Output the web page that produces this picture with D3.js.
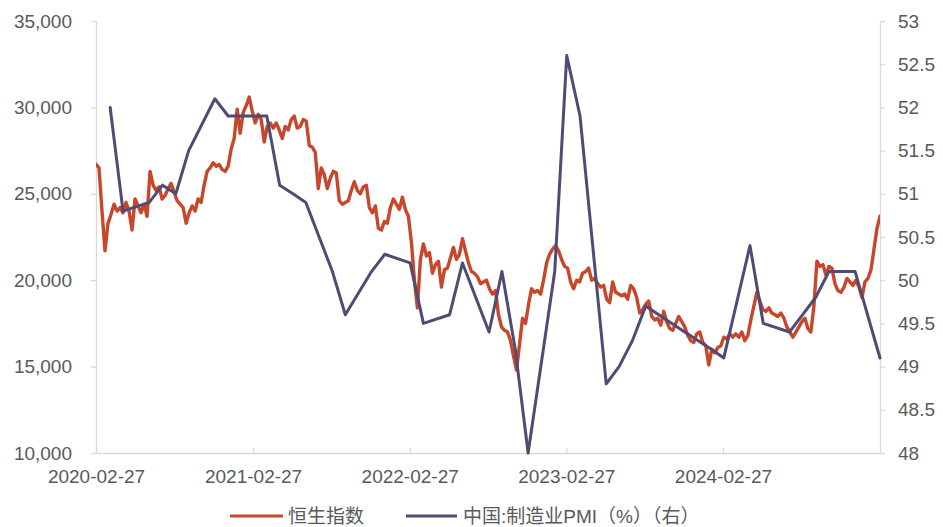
<!DOCTYPE html>
<html><head><meta charset="utf-8">
<script src="https://cdn.jsdelivr.net/npm/d3@7"></script>
<style>
body{margin:0;background:#fff}
text{font-family:"Liberation Sans",Arial,"Noto Sans CJK SC",sans-serif}
</style>
</head><body>
<svg id="chart" width="943" height="527"></svg>
<script>
// ---- data ----
const hsiStart = "2020-02-27";   // weekly samples from this date
const hsiStepDays = 7;
const hsiValues = [
26700,26500,24000,21700,23300,23800,24400,24000,24200,23900,
24500,24000,22900,24700,24300,23900,24400,23700,26300,25500,
25200,25400,24700,24900,25300,25600,25100,24600,24400,24200,
23300,23900,24300,24000,24700,24500,25500,26300,26500,26800,
26600,26700,26400,26300,26600,27600,28200,29900,28500,29700,
30100,30600,29800,29100,29600,29300,28000,28900,29100,28800,
29100,28700,28200,28900,28700,29300,29500,28800,28900,29300,
29200,27800,27700,27400,25300,26500,26100,25300,25900,26300,
26200,24600,24400,24500,24600,25200,25700,25200,25000,25400,
25500,24200,23900,24300,23000,22900,23400,23300,24200,24700,
24400,24100,24800,24100,23700,22200,20000,18400,21200,22100,
21400,21600,20400,20900,21100,19600,20600,20700,21300,21900,
21200,21500,22400,21700,21000,20500,20400,20200,19800,19900,
20000,19500,19200,19400,18000,17300,17100,17000,16500,15600,
14800,16300,17800,17500,18600,19500,19300,19400,19200,20000,
21000,21500,21800,22000,21700,21200,20800,20700,19900,19500,
20000,19900,20400,20500,20700,20000,20100,19800,19600,19700,
18900,18700,19900,19300,19200,19100,19200,18900,19700,19500,
19000,18100,18300,18600,18800,17900,17700,17800,17400,18200,
17600,17200,17100,17500,17900,17600,17300,16800,16500,16400,
16900,17000,16400,16200,15100,16000,15800,16100,16200,16700,
16600,16900,16700,16900,16700,17000,16500,16800,17700,18500,
19300,18800,18300,18200,18400,18100,18000,17900,18100,17800,
17300,17000,16700,17000,17300,17600,17800,17200,17000,18500,
21100,20800,20900,20300,20800,20700,19800,19400,19300,19600,
20100,19900,19700,20000,19600,19000,19900,20100,20600,21800,
23000,23700
];
const pmiDates = [
"2020-03-31","2020-04-30","2020-06-30","2020-07-31","2020-08-31","2020-09-30","2020-11-30","2020-12-31",
"2021-03-31","2021-04-30","2021-05-31","2021-06-30","2021-08-31","2021-09-30","2021-11-30","2021-12-31",
"2022-02-28","2022-03-31","2022-05-31","2022-06-30","2022-08-31","2022-09-30","2022-10-31","2022-11-30",
"2023-01-31","2023-02-28","2023-03-31","2023-05-31","2023-06-30","2023-07-31","2023-08-31","2023-10-31","2023-11-30",
"2024-01-31","2024-02-29","2024-04-30","2024-05-31","2024-07-31","2024-09-30","2024-10-31","2024-12-31","2025-02-27"
];
const pmiValues = [
52.0,50.8,50.9,51.1,51.0,51.5,52.1,51.9,
51.9,51.1,51.0,50.9,50.1,49.6,50.1,50.3,
50.2,49.5,49.6,50.2,49.4,50.1,49.2,48.0,
50.1,52.6,51.9,48.8,49.0,49.3,49.7,49.5,49.4,
49.2,49.1,50.4,49.5,49.4,49.8,50.1,50.1,49.1
];
const xDomain = ["2020-02-27","2025-02-27"];
const xTickLabels = ["2020-02-27","2021-02-27","2022-02-27","2023-02-27","2024-02-27"];
const leftTicks = [10000,15000,20000,25000,30000,35000];
const rightTicks = [48,48.5,49,49.5,50,50.5,51,51.5,52,52.5,53];
const seriesNames = ["恒生指数","中国:制造业PMI（%）（右）"];
const seriesColors = ["#C8462A","#4F4B74"];

// ---- chart ----
const parse = d3.utcParse("%Y-%m-%d");
const svg = d3.select("#chart");
const L = 96, R = 880, T = 21, B = 453;
const x = d3.scaleUtc().domain(xDomain.map(parse)).range([L, R]);
const yL = d3.scaleLinear().domain([10000, 35000]).range([B, T]);
const yR = d3.scaleLinear().domain([48, 53]).range([B, T]);

const start = parse(hsiStart);
const hsi = hsiValues.map((v, i) => ({d: d3.utcDay.offset(start, i * hsiStepDays), v}));
const pmi = pmiDates.map((s, i) => ({d: parse(s), v: pmiValues[i]}));

const axisColor = "#D9D9D9", textColor = "#595959", fs = 19;

function styleAxis(g) {
  g.selectAll("path.domain").attr("stroke", axisColor).attr("stroke-width", 1.3);
  g.selectAll(".tick line").attr("stroke", axisColor).attr("stroke-width", 1.3);
  g.selectAll(".tick text").attr("fill", textColor).style("font-size", fs + "px");
}

svg.append("g").attr("transform", `translate(${L},0)`)
  .call(d3.axisLeft(yL).tickValues(leftTicks).tickFormat(d3.format(",")).tickSize(5).tickSizeOuter(0).tickPadding(19))
  .call(styleAxis);

svg.append("g").attr("transform", `translate(${R},0)`)
  .call(d3.axisRight(yR).tickValues(rightTicks).tickFormat(d => d3.format("")(d)).tickSize(5).tickSizeOuter(0).tickPadding(13))
  .call(styleAxis);

svg.append("g").attr("transform", `translate(0,${B})`)
  .call(d3.axisBottom(x).tickValues(xTickLabels.map(parse)).tickFormat(d3.utcFormat("%Y-%m-%d")).tickSize(-5).tickSizeOuter(0).tickPadding(17))
  .call(styleAxis);

svg.append("clipPath").attr("id", "plotclip")
  .append("rect").attr("x", L).attr("y", T - 3).attr("width", R - L).attr("height", B - T + 3);

svg.append("path").datum(hsi)
  .attr("clip-path", "url(#plotclip)")
  .attr("fill", "none").attr("stroke", seriesColors[0]).attr("stroke-width", 3.4)
  .attr("stroke-linejoin", "round").attr("stroke-linecap", "round")
  .attr("d", d3.line().x(d => x(d.d)).y(d => yL(d.v)));

svg.append("path").datum(pmi)
  .attr("fill", "none").attr("stroke", seriesColors[1]).attr("stroke-width", 3)
  .attr("stroke-linejoin", "round").attr("stroke-linecap", "round")
  .attr("d", d3.line().x(d => x(d.d)).y(d => yR(d.v)));

// legend
const legendY = 516;
const legendItems = [{x1: 230, x2: 283, tx: 288}, {x1: 406, x2: 457, tx: 463}];
legendItems.forEach((it, i) => {
  svg.append("line").attr("x1", it.x1).attr("x2", it.x2).attr("y1", legendY).attr("y2", legendY)
    .attr("stroke", seriesColors[i]).attr("stroke-width", 3);
  svg.append("text").attr("x", it.tx).attr("y", legendY).attr("dy", "0.35em")
    .attr("fill", textColor).style("font-size", fs + "px").text(seriesNames[i]);
});
</script>
</body></html>
